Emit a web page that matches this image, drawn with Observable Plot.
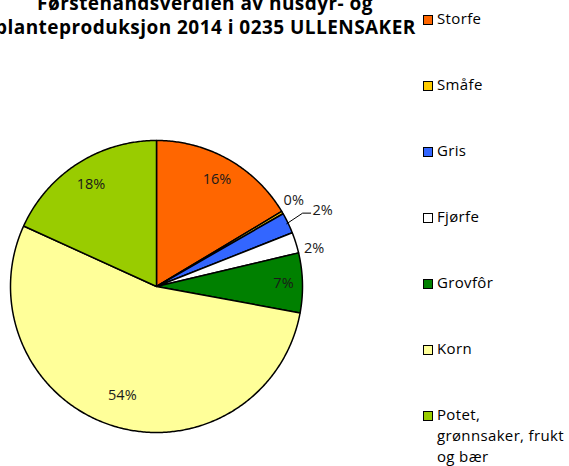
<!DOCTYPE html>
<html>
<head>
<meta charset="utf-8">
<script src="https://cdn.jsdelivr.net/npm/d3@7"></script>
<script src="https://cdn.jsdelivr.net/npm/@observablehq/plot@0.6"></script>
<style>
  html, body { margin: 0; padding: 0; background: #fff; }
  #wrap { position: relative; width: 569px; height: 466px; overflow: hidden; font-family: "Open Sans", sans-serif; }
  #title { position: absolute; left: -5px; width: 420px; top: -9px; text-align: center; font-weight: bold; font-size: 19px; letter-spacing: 0.45px; line-height: 24px; color: #000; white-space: nowrap; }
  #legend { position: absolute; left: 423px; top: 0; font-size: 15px; letter-spacing: 0.35px; color: #000; }
  .item { position: absolute; left: 0; display: flex; align-items: flex-start; white-space: nowrap; }
  .sw { width: 8px; height: 8px; border: 1px solid #000; margin-top: 6px; margin-right: 4px; flex: none; }
  .lbl { line-height: 21px; margin-top: -1px; }
  #chart { position: absolute; left: 0; top: 0; }
</style>
</head>
<body>
<div id="wrap">
  <div id="chart"></div>
  <div id="title">Førstehandsverdien av husdyr- og<br>planteproduksjon 2014 i 0235 ULLENSAKER</div>
  <div id="legend"></div>
</div>
<script>
const categories = ["Storfe", "Småfe", "Gris", "Fjørfe", "Grovfôr", "Korn", "Potet, grønnsaker, frukt og bær"];
const legendLabels = ["Storfe", "Småfe", "Gris", "Fjørfe", "Grovfôr", "Korn", "Potet,<br>grønnsaker, frukt<br>og bær"];
const values = [16.4, 0.3, 2.3, 2.3, 6.6, 53.9, 18.2];
const colors = ["#FF6600", "#FFCC00", "#3366FF", "#FFFFFF", "#008000", "#FFFF99", "#99CC00"];

// pie geometry via d3.pie (angles clockwise from 12 o'clock)
const total = d3.sum(values);
const arcs = d3.pie().sort(null).value(d => d)(values);

// polygon vertices for each slice in unit coordinates
const polys = [];
arcs.forEach((a, i) => {
  const n = Math.max(2, Math.ceil((a.endAngle - a.startAngle) / 0.01));
  polys.push({slice: i, x: 0, y: 0});
  for (let j = 0; j <= n; j++) {
    const t = a.startAngle + (a.endAngle - a.startAngle) * j / n;
    polys.push({slice: i, x: Math.sin(t), y: Math.cos(t)});
  }
});

const mid = i => (arcs[i].startAngle + arcs[i].endAngle) / 2;
const polar = (r, t) => ({x: r * Math.sin(t), y: r * Math.cos(t)});

// label placement (layout, not data)
const insideR = [0.84, 0, 0, 0, 0.87, 0.78, 0.83];
const labels = arcs.map((a, i) => {
  const text = Math.round(values[i] / total * 100) + "%";
  if (values[i] / total >= 0.03) return {text, ...polar(insideR[i], mid(i)), anchor: "middle"};
  if (i === 1) return {text, ...polar(1.11, mid(i) - 0.03), anchor: "middle"};
  if (i === 3) return {text, ...polar(1.11, mid(i) + 0.07), anchor: "middle"};
  return null;
}).filter(d => d);

// leader line for the Gris label
const gStart = polar(0.99, mid(2));
const gElbow = polar(1.12, mid(2) - 0.016);
const gEnd = {x: gElbow.x + 0.055, y: gElbow.y};
const leader = [gStart, gElbow, gEnd];
labels.push({text: Math.round(values[2] / total * 100) + "%", x: gEnd.x + 0.012, y: gEnd.y + 0.02, anchor: "start"});

const cx = 156, cy = 286, R = 146;
const chart = Plot.plot({
  width: 569,
  height: 466,
  margin: 0,
  x: {domain: [-1, 1], range: [cx - R, cx + R], axis: null},
  y: {domain: [-1, 1], range: [cy + R, cy - R], axis: null},
  style: {fontFamily: "'Open Sans', sans-serif", background: "white"},
  marks: [
    Plot.line(polys, {
      x: "x", y: "y", z: "slice",
      fill: d => colors[d.slice],
      stroke: "#000", strokeWidth: 1.5, strokeLinejoin: "round",
      curve: "linear-closed"
    }),
    Plot.line(leader, {x: "x", y: "y", stroke: "#000", strokeWidth: 1}),
    Plot.text(labels.filter(d => d.anchor === "middle"), {
      x: "x", y: "y", text: "text",
      fontSize: 14.5, fill: "#1a1a1a"
    }),
    Plot.text(labels.filter(d => d.anchor === "start"), {
      x: "x", y: "y", text: "text", textAnchor: "start",
      fontSize: 14.5, fill: "#1a1a1a"
    })
  ]
});
document.getElementById("chart").appendChild(chart);

// legend
const legend = document.getElementById("legend");
const tops = [9, 75, 141, 207, 273, 339, 405];
categories.forEach((c, i) => {
  const it = document.createElement("div");
  it.className = "item";
  it.style.top = tops[i] + "px";
  it.innerHTML = `<div class="sw" style="background:${colors[i]}"></div><div class="lbl">${legendLabels[i]}</div>`;
  legend.appendChild(it);
});
</script>
</body>
</html>
